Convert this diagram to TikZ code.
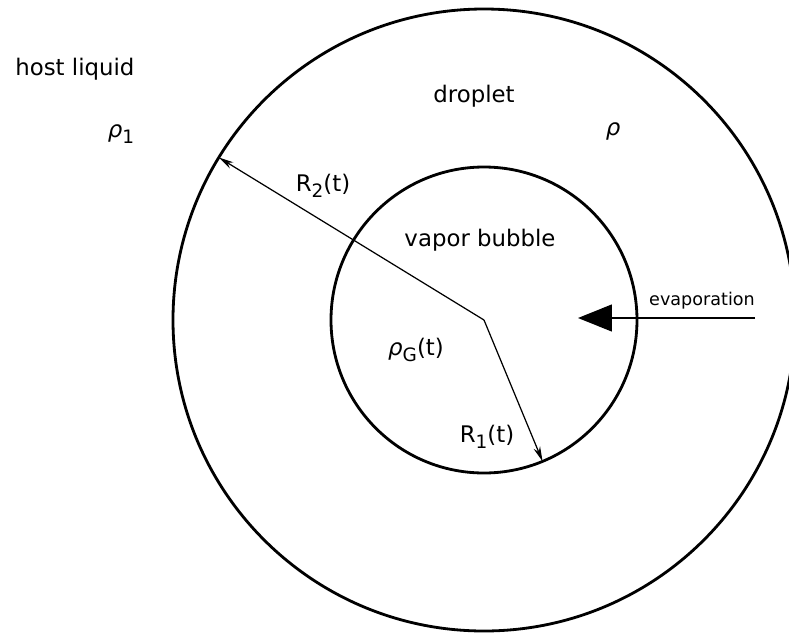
\documentclass[tikz,border=0pt]{standalone}
\usepackage{fontspec}
\setmainfont{DejaVu Sans}
\usetikzlibrary{arrows.meta,calc}
\newcommand{\lowsub}[1]{\raisebox{-0.45ex}{\fontsize{10.5}{12}\selectfont #1}}
\tikzset{
  bnd/.style={line width=1.6pt},
  rad/.style={line width=0.7pt, -{Stealth[length=3mm,width=1.4mm]}},
  evar/.style={line width=0.8pt, -{Triangle[length=6.8mm,width=5.4mm]}},
  lab/.style={font=\fontsize{13}{15}\selectfont, inner sep=0pt},
  evlab/.style={font=\fontsize{10}{12}\selectfont, inner sep=0pt},
}
\begin{document}
\begin{tikzpicture}[x=0.02cm,y=-0.02cm]
  \useasboundingbox (0,0) rectangle (789,633);
  % droplet and bubble
  \coordinate (c) at (484,320);
  \draw[bnd] (c) circle[radius=311];
  \draw[bnd] (c) circle[radius=153];
  % radii
  \coordinate (r2end) at ($(c)+(211.5:311)$);
  \coordinate (r1end) at ($(c)+(67.5:153)$);
  \draw[rad] (c) -- (r2end);
  \draw[rad] (c) -- (r1end);
  % evaporation
  \coordinate (evs) at (755,318);
  \coordinate (evt) at (578,318);
  \draw[evar] (evs) -- (evt);
  % labels
  \node[lab, anchor=west] (host) at (15,69) {host liquid};
  \node[lab] (rho1) at (121,134) {\textit{ρ}\lowsub{1}};
  \node[lab] (drop) at (474,96) {droplet};
  \node[lab] (rho) at (613,131) {\textit{ρ}};
  \node[lab] (r2) at (323,186) {R\lowsub{2}(t)};
  \node[lab] (vap) at (480,240) {vapor bubble};
  \node[lab] (rhog) at (416,350) {\textit{ρ}\lowsub{G}(t)};
  \node[lab] (r1) at (487,437) {R\lowsub{1}(t)};
  \node[evlab] (evap) at (702,301) {evaporation};
\end{tikzpicture}
\end{document}
